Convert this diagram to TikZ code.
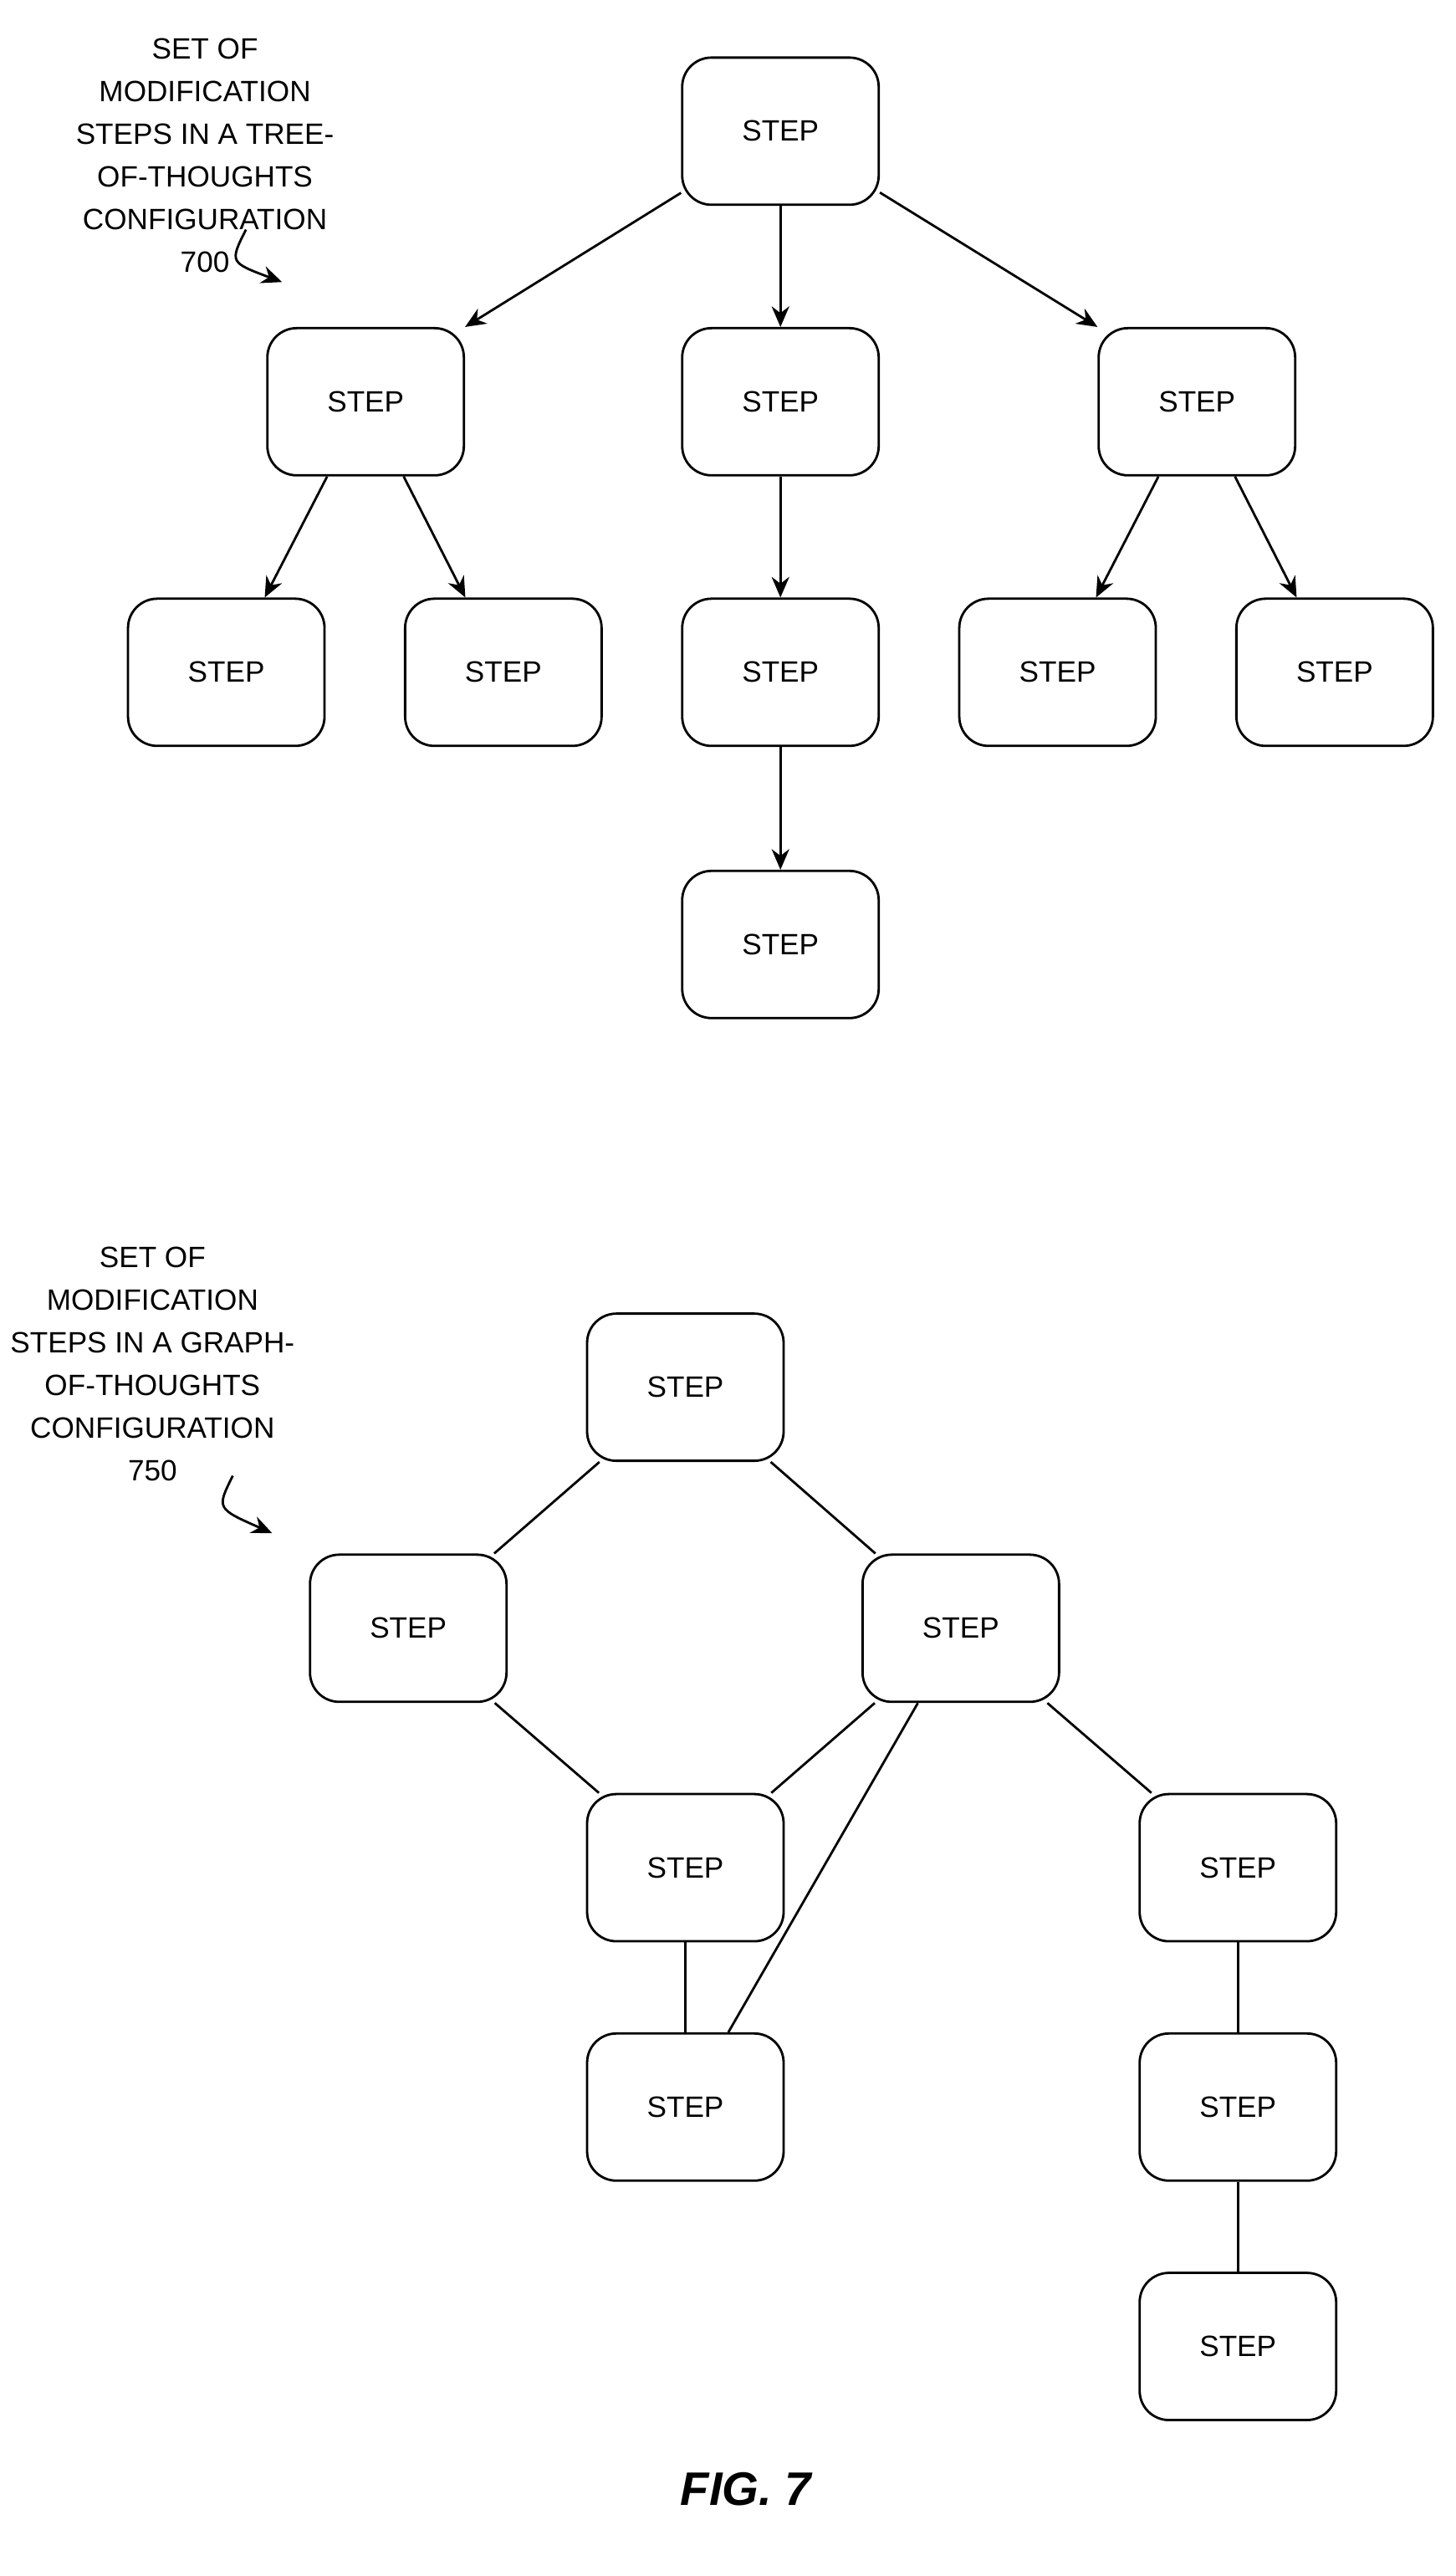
\documentclass[tikz,border=0pt]{standalone}
\usepackage{fontspec}
\setmainfont{Liberation Sans}
\usetikzlibrary{arrows.meta}
\tikzset{
  stepbox/.style={draw, line width=0.8pt, rounded corners=0.35cm, minimum width=2.35cm,
    minimum height=1.76cm, font=\fontsize{10}{12}\selectfont},
  tag/.style={align=center, font=\fontsize{10}{14.5}\selectfont},
  link/.style={line width=0.8pt},
  arr/.style={line width=0.8pt, -{Stealth[length=7pt,width=6pt]}}
}
\begin{document}
\begin{tikzpicture}[x=0.0196cm, y=-0.0196cm]
    \useasboundingbox (0,0) rectangle (888,1571);
    % tree of thoughts
    \node[stepbox] (t0) at (476,80) {STEP};
    \node[stepbox] (t1) at (223,245) {STEP};
    \node[stepbox] (t2) at (476,245) {STEP};
    \node[stepbox] (t3) at (730,245) {STEP};
    \node[stepbox] (t11) at (138,410) {STEP};
    \node[stepbox] (t12) at (307,410) {STEP};
    \node[stepbox] (t21) at (476,410) {STEP};
    \node[stepbox] (t31) at (645,410) {STEP};
    \node[stepbox] (t32) at (814,410) {STEP};
    \node[stepbox] (t22) at (476,576) {STEP};
    \draw[arr] (t0) -- (t1.north east);
    \draw[arr] (t0) -- (t2);
    \draw[arr] (t0) -- (t3.north west);
    \draw[arr] (t1) -- (t11);
    \draw[arr] (t1) -- (t12);
    \draw[arr] (t2) -- (t21);
    \draw[arr] (t21) -- (t22);
    \draw[arr] (t3) -- (t31);
    \draw[arr] (t3) -- (t32);
    \node[tag] (treelabel) at (125,95) {SET OF\\MODIFICATION\\STEPS IN A TREE-\\OF-THOUGHTS\\CONFIGURATION\\700};
    \coordinate (ta) at (150,140);
    \coordinate (tb) at (172,172);
    \draw[arr] (ta) .. controls (140,160) .. (tb);
    % graph of thoughts
    \node[stepbox] (g0) at (418,846) {STEP};
    \node[stepbox] (g1) at (249,993) {STEP};
    \node[stepbox] (g2) at (586,993) {STEP};
    \node[stepbox] (g3) at (418,1139) {STEP};
    \node[stepbox] (g4) at (755,1139) {STEP};
    \node[stepbox] (g5) at (418,1285) {STEP};
    \node[stepbox] (g6) at (755,1285) {STEP};
    \node[stepbox] (g7) at (755,1431) {STEP};
    \draw[link] (g0) -- (g1);
    \draw[link] (g0) -- (g2);
    \draw[link] (g1) -- (g3);
    \draw[link] (g2) -- (g3);
    \draw[link] (g2) -- (g5);
    \draw[link] (g2) -- (g4);
    \draw[link] (g3) -- (g5);
    \draw[link] (g4) -- (g6);
    \draw[link] (g6) -- (g7);
    \node[tag] (graphlabel) at (93,832) {SET OF\\MODIFICATION\\STEPS IN A GRAPH-\\OF-THOUGHTS\\CONFIGURATION\\750};
    \coordinate (ga) at (142,900);
    \coordinate (gb) at (166,935);
    \draw[arr] (ga) .. controls (132,920) .. (gb);
    \node[font=\fontsize{16}{18}\selectfont\bfseries\itshape] (fig) at (455,1518) {FIG. 7};
\end{tikzpicture}
\end{document}
